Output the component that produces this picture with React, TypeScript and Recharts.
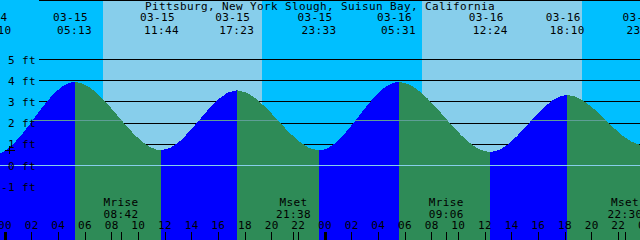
import React from 'react';
import {
  ComposedChart,
  Area,
  XAxis,
  YAxis,
  CartesianGrid,
  ReferenceArea,
  ReferenceDot,
  Customized,
} from 'recharts';

// ---------- data ----------
const TITLE = 'Pittsburg, New York Slough, Suisun Bay, California';

// tide extremes; day index: 0 = 03-15, 1 = 03-16, -1 = 03-14, 2 = 03-17
const tideDates = ['03-14', '03-14', '03-15', '03-15', '03-15', '03-15', '03-16', '03-16', '03-16', '03-16', '03-17'];
const tideTimes = ['16:50', '23:10', '05:13', '11:44', '17:23', '23:33', '05:31', '12:24', '18:10', '23:56', '06:05'];
const tideDays = [-1, -1, 0, 0, 0, 0, 1, 1, 1, 1, 2];
const tideHeights = [3.6, 0.52, 3.94, 0.72, 3.55, 0.71, 3.94, 0.64, 3.33, 0.95, 3.9];

const sunriseTimes = ['07:21', '07:16'];
const sunsetTimes = ['19:17', '19:17'];
const sunDays = [0, 1];

const moonEvents = ['Mrise', 'Mset', 'Mrise', 'Mset'];
const moonTimes = ['08:42', '21:38', '09:06', '22:30'];
const moonDays = [0, 0, 1, 1];

const hourTicks = [0, 2, 4, 6, 8, 10, 12, 14, 16, 18, 20, 22, 24, 26, 28, 30, 32, 34, 36, 38, 40, 42, 44, 46, 48];
const levelTicks = [-1, 0, 1, 2, 3, 4, 5];
const levelLabels = ['-1 ft', '0 ft', '1 ft', '2 ft', '3 ft', '4 ft', '5 ft'];

const mslLevel = 2.12;
const datumLevel = 0;
const nowTime = '00:22';
const nowLevel = 0.72;

// ---------- layout / style ----------
const W = 640;
const H = 240;
const X_MIN = -0.375;
const X_MAX = 47.625;
const Y_MAX = 165.5 / 21.2;
const Y_MIN = -(H - 165.5) / 21.2;
const GRID_X = 39;
const FONT = "'DejaVu Sans Mono', monospace";
const FS = 11;
const LS = 0.38;

const NIGHT = '#00BFFF';
const DAY = '#87CEEB';
const FLOOD = '#0000FF';
const EBB = '#2E8B57';
const MSL_COLOR = '#5F9E96';
const DATUM_COLOR = '#87CEEB';

const toHours = (hhmm: string, day: number) => {
  const [h, m] = hhmm.split(':').map(Number);
  return day * 24 + h + m / 60;
};

const tideHours = tideTimes.map((t, i) => toHours(t, tideDays[i]));
const data = tideHours.map((t, i) => ({ t, h: tideHeights[i] }));
const tideLabelHours = tideHours.filter((t) => t > X_MIN - 1.5 && t < X_MAX + 1.5);
const moonHours = moonTimes.map((t, i) => toHours(t, moonDays[i]));
const days = sunDays.map((d, i) => ({ x1: toHours(sunriseTimes[i], d), x2: toHours(sunsetTimes[i], d) }));

const fracX = (t: number) => Math.min(1, Math.max(0, (t - X_MIN) / (X_MAX - X_MIN)));
const fracY = (v: number) => (Y_MAX - v) / (Y_MAX - Y_MIN);

const textStyle = { fontFamily: FONT, fontSize: FS, letterSpacing: LS, fill: '#000' } as const;

const HourTick = (props: any) => {
  const { x, payload } = props;
  const v = payload.value as number;
  const thick = v % 24 === 0;
  return (
    <g>
      <line x1={x} x2={x} y1={232} y2={H} stroke="#000" strokeWidth={thick ? 3 : 1} />
      <text x={x} y={229} textAnchor="middle" {...textStyle}>
        {String(v % 24).padStart(2, '0')}
      </text>
    </g>
  );
};

const MoonTick = (props: any) => {
  const { x, payload } = props;
  const i = moonHours.findIndex((m) => Math.abs(m - payload.value) < 1e-6);
  return (
    <g>
      <line x1={x} x2={x} y1={232} y2={H} stroke="#000" strokeWidth={1} />
      <text x={x} y={206} textAnchor="middle" {...textStyle}>{moonEvents[i]}</text>
      <text x={x} y={217.5} textAnchor="middle" {...textStyle}>{moonTimes[i]}</text>
    </g>
  );
};

const TideTick = (props: any) => {
  const { x, payload } = props;
  const i = tideHours.findIndex((m) => Math.abs(m - payload.value) < 1e-6);
  return (
    <g>
      <text x={x - 4} y={21} textAnchor="middle" {...textStyle}>{tideDates[i]}</text>
      <text x={x} y={33.5} textAnchor="middle" {...textStyle}>{tideTimes[i]}</text>
    </g>
  );
};

const LevelTick = (props: any) => {
  const { y, payload } = props;
  const i = levelTicks.indexOf(payload.value);
  return (
    <text x={36} y={y + 4} textAnchor="end" {...textStyle}>
      {levelLabels[i]}
    </text>
  );
};

const Title = () => (
  <text x={W / 2} y={9.5} textAnchor="middle" {...textStyle}>
    {TITLE}
  </text>
);

const Cross = (props: any) => {
  const { cx, cy } = props;
  return (
    <g>
      <line x1={cx - 5} x2={cx + 5} y1={cy} y2={cy} stroke="#000" strokeWidth={1} />
      <line x1={cx} x2={cx} y1={cy - 4} y2={cy + 4} stroke="#000" strokeWidth={1} />
    </g>
  );
};

// hard-stop gradient stops for flood / ebb
const tideStops: { o: number; c: string }[] = [];
for (let i = 0; i < tideHours.length - 1; i++) {
  const c = tideHeights[i + 1] > tideHeights[i] ? FLOOD : EBB;
  tideStops.push({ o: fracX(tideHours[i]), c });
  tideStops.push({ o: fracX(tideHours[i + 1]), c });
}

const band = (v: number, color: string) => {
  const c = fracY(v);
  const hh = 0.5 / H;
  return [
    { o: c - hh, c: 'none' },
    { o: c - hh, c: color },
    { o: c + hh, c: color },
    { o: c + hh, c: 'none' },
  ];
};
const bandStops = [
  { o: 0, c: 'none' },
  ...band(mslLevel, MSL_COLOR),
  ...band(datumLevel, DATUM_COLOR),
  { o: 1, c: 'none' },
];

export default function App() {
  return (
    <div style={{ width: W, height: H, background: NIGHT, shapeRendering: 'crispEdges' as any }}>
      <style>{'body{margin:0}'}</style>
      <ComposedChart width={W} height={H} data={data} margin={{ top: 0, right: 0, bottom: 0, left: 0 }}>
        <defs>
          <linearGradient id="tideFill" gradientUnits="userSpaceOnUse" x1={0} y1={0} x2={W} y2={0}>
            {tideStops.map((s, i) => (
              <stop key={i} offset={s.o} stopColor={s.c} />
            ))}
          </linearGradient>
          <linearGradient id="bands" gradientUnits="userSpaceOnUse" x1={0} y1={0} x2={0} y2={H}>
            {bandStops.map((s, i) => (
              <stop
                key={i}
                offset={s.o}
                stopColor={s.c === 'none' ? '#000' : s.c}
                stopOpacity={s.c === 'none' ? 0 : 1}
              />
            ))}
          </linearGradient>
        </defs>
        {days.map((d, i) => (
          <ReferenceArea key={i} x1={d.x1} x2={d.x2} fill={DAY} fillOpacity={1} stroke="none" zIndex={-200} />
        ))}
        <CartesianGrid vertical={false} stroke="#000" x={GRID_X} width={W - GRID_X} zIndex={-100} />
        <XAxis
          dataKey="t"
          type="number"
          domain={[X_MIN, X_MAX]}
          allowDataOverflow
          ticks={hourTicks}
          interval={0}
          mirror
          orientation="bottom"
          axisLine={false}
          tickLine={false}
          tick={HourTick}
        />
        <XAxis
          xAxisId="m"
          dataKey="t"
          type="number"
          domain={[X_MIN, X_MAX]}
          allowDataOverflow
          ticks={moonHours}
          interval={0}
          mirror
          orientation="bottom"
          axisLine={false}
          tickLine={false}
          tick={MoonTick}
        />
        <XAxis
          xAxisId="t"
          dataKey="t"
          type="number"
          domain={[X_MIN, X_MAX]}
          allowDataOverflow
          ticks={tideLabelHours}
          interval={0}
          mirror
          orientation="top"
          axisLine={false}
          tickLine={false}
          tick={TideTick}
        />
        <YAxis
          type="number"
          domain={[Y_MIN, Y_MAX]}
          allowDataOverflow
          ticks={levelTicks}
          interval={0}
          mirror
          axisLine={false}
          tickLine={false}
          tick={LevelTick}
        />
        <Area
          dataKey="h"
          type="monotone"
          stroke="none"
          fill="url(#tideFill)"
          fillOpacity={1}
          baseValue="dataMin"
          isAnimationActive={false}
          dot={false}
          activeDot={false}
        />
        <Area
          dataKey="h"
          type="monotone"
          stroke="none"
          fill="url(#bands)"
          fillOpacity={1}
          baseValue="dataMin"
          isAnimationActive={false}
          dot={false}
          activeDot={false}
        />
        <ReferenceDot
          x={toHours(nowTime, 0)}
          y={nowLevel}
          ifOverflow="visible"
          shape={Cross}
          zIndex={600}
        />
        <Customized component={Title} />
      </ComposedChart>
    </div>
  );
}
